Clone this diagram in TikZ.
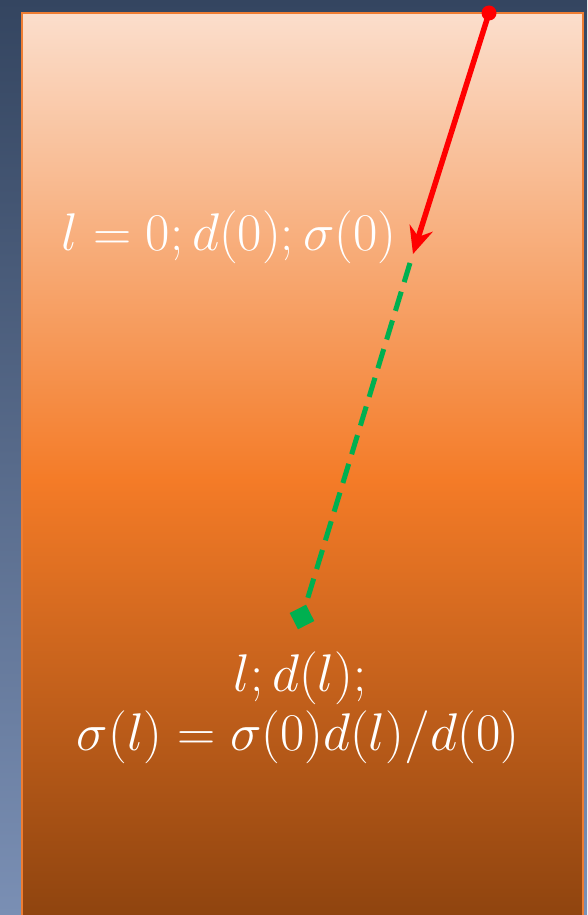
\documentclass[tikz,border=0pt]{standalone}
\usetikzlibrary{arrows.meta,shapes.geometric}
\definecolor{navytop}{HTML}{344560}
\definecolor{navybot}{HTML}{7A8FB4}
\definecolor{peach}{HTML}{FBDECC}
\definecolor{orangemid}{HTML}{F47B27}
\definecolor{brownbot}{HTML}{8F440F}
\definecolor{frame}{HTML}{EE7D33}
\definecolor{arrred}{HTML}{FF0000}
\definecolor{dgreen}{HTML}{00B050}
\tikzset{
  lbl/.style={text=white, inner sep=0pt},
  redline/.style={draw=arrred, line width=5.5pt, -{Stealth[length=27pt,width=24pt,inset=9pt]}},
  greenline/.style={draw=dgreen, line width=5pt, dash pattern=on 20pt off 10pt},
}
\newcommand{\largemath}[1]{\scalebox{2.13}{\fontsize{24.88}{30}\selectfont$#1$}}
\begin{document}
\begin{tikzpicture}[x=1pt,y=-1pt]
\useasboundingbox (0,0) rectangle (587,915);
\shade[top color=navytop, bottom color=navybot] (0,0) rectangle (587,915);
\shade[top color=peach, bottom color=orangemid] (22,13) rectangle (583,481);
\shade[top color=orangemid, bottom color=brownbot] (22,480) rectangle (583,916);
\draw[frame, line width=1.5pt] (22,916) -- (22,13) -- (583,13) -- (583,916);
\node[circle, fill=arrred, minimum size=15pt, inner sep=0pt] (dot) at (489,13) {};
\coordinate (tip) at (413,254);
\coordinate (gstart) at (410,263);
\node[diamond, fill=dgreen, minimum size=26pt, inner sep=0pt, rotate=-18] (dia) at (302,617) {};
\draw[redline] (dot.center) -- (tip);
\draw[greenline] (gstart) -- (dia.center);
\node[lbl] (t1) at (229,237) {\largemath{l=0;d(0);\sigma(0)}};
\node[lbl] (t2) at (300,678) {\largemath{l;d(l);}};
\node[lbl] (t3) at (298,737) {\largemath{\sigma(l)=\sigma(0)d(l)/d(0)}};
\end{tikzpicture}
\end{document}
